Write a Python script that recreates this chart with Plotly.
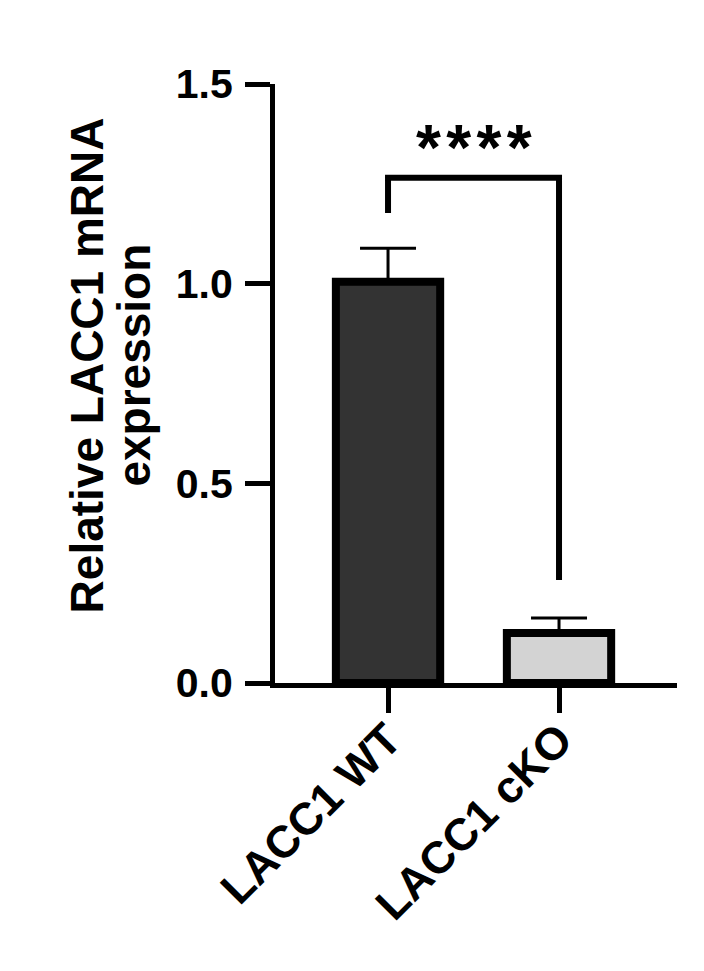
import plotly.graph_objects as go

FONT = "Liberation Sans, Arial, sans-serif"

groups = ["LACC1 WT", "LACC1 cKO"]
means = [1.005, 0.125]
errors = [0.084, 0.038]
bar_colors = ["#333333", "#d3d3d3"]

y_ticks = [0.0, 0.5, 1.0, 1.5]

# significance bracket: left leg bottom, bar height, right leg bottom
bracket_y = [1.177, 1.265, 1.265, 0.258]
stars = "*\u200a*\u200a*\u200a*"
stars_y = 1.34

fig = go.Figure()

fig.add_trace(go.Bar(
    x=groups,
    y=means,
    width=0.61,
    marker=dict(color=bar_colors, line=dict(color="black", width=8)),
    error_y=dict(type="data", symmetric=False, array=errors, arrayminus=[0, 0],
                 color="black", thickness=3, width=28),
))

fig.add_trace(go.Scatter(
    x=[groups[0], groups[0], groups[1], groups[1]],
    y=bracket_y,
    mode="lines",
    line=dict(color="black", width=6),
))

fig.add_annotation(x=0.5, y=stars_y, xref="x", yref="y", text=stars, showarrow=False,
                   font=dict(family=FONT, size=64, color="black", weight="bold"),
                   xanchor="center", yanchor="middle")

# y-axis title as two rotated lines (tighter line spacing than plotly's <br>)
fig.add_annotation(x=-0.468, y=0.53, xref="paper", yref="paper",
                   text="Relative LACC1 mRNA", textangle=-90, showarrow=False,
                   font=dict(family=FONT, size=46, color="black", weight="bold"),
                   xanchor="center", yanchor="middle")
fig.add_annotation(x=-0.353, y=0.53, xref="paper", yref="paper",
                   text="expression", textangle=-90, showarrow=False,
                   font=dict(family=FONT, size=46, color="black", weight="bold"),
                   xanchor="center", yanchor="middle")

# page body has an 8px margin, so the figure is a bit smaller than the window
fig.update_layout(
    width=696, height=963,
    margin=dict(l=267, r=27, t=76, b=288),
    paper_bgcolor="white", plot_bgcolor="white",
    showlegend=False,
    font=dict(family=FONT, color="black"),
)

fig.update_xaxes(
    type="category", range=[-0.661, 1.69],
    showline=True, linewidth=5, linecolor="black",
    ticks="outside", ticklen=25, tickwidth=5, tickcolor="black",
    tickangle=-45, tickfont=dict(family=FONT, size=45, weight="bold"),
    ticklabelstandoff=-18,
    showgrid=False, zeroline=False,
)
fig.update_yaxes(
    range=[0, 1.5], tickvals=y_ticks, tickformat=".1f",
    showline=True, linewidth=5, linecolor="black",
    ticks="outside", ticklen=25, tickwidth=5, tickcolor="black",
    tickfont=dict(family=FONT, size=41, weight="bold"),
    ticklabelstandoff=4,
    showgrid=False, zeroline=False,
)

fig.write_html("out.html")
